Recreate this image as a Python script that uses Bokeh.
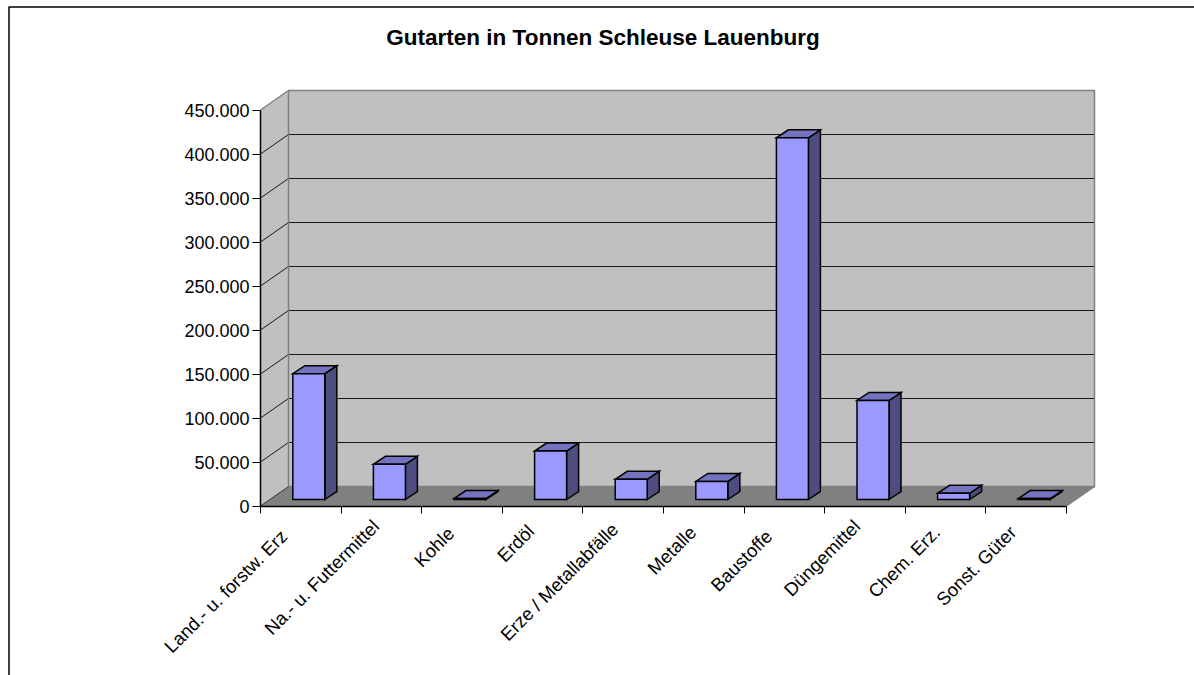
from bokeh.plotting import figure
from bokeh.embed import file_html
from bokeh.resources import INLINE
from bokeh.core.properties import value
from bokeh.models import Range1d, LinearAxis, FixedTicker, Label

TITLE = "Gutarten in Tonnen Schleuse Lauenburg"
categories = ["Land.- u. forstw. Erz", "Na.- u. Futtermittel", "Kohle", "Erdöl",
              "Erze / Metallabfälle", "Metalle", "Baustoffe", "Düngemittel",
              "Chem. Erz.", "Sonst. Güter"]
tonnen = [143000, 40000, 1000, 55000, 23000, 20500, 411000, 112500, 7000, 1000]
y_ticks = [0, 50000, 100000, 150000, 200000, 250000, 300000, 350000, 400000, 450000]
y_labels = ["0", "50.000", "100.000", "150.000", "200.000", "250.000",
            "300.000", "350.000", "400.000", "450.000"]

# pixel nudges of the slanted category labels from their category centre
label_dx = [-16.9, -5.5, -11.1, -11.7, -8.3, -10.9, -15.5, -8.1, -8.7, -13.3]
label_dy = [27.1, 17.1, 24.1, 22.1, 20.1, 23.1, 27.1, 17.1, 23.1, 23.1]

W, H = 1194, 675
PX_X = 80.6                 # pixels per category
PX_Y = 396 / 450000         # pixels per tonne
X0, Y0 = 260, 505.5         # canvas position of the axes origin

def ux(px): return px / PX_X
def uy(px): return px / PX_Y

DX, DY = ux(28), uy(19.5)      # depth of the chart box
BW = ux(32)                    # bar width
BDX, BDY = ux(12), uy(8)       # depth of a bar
BX, BY = ux(8.0), uy(6.5)      # bar centre shift on the floor

p = figure(width=W, height=H, output_backend="svg", toolbar_location=None,
           x_range=Range1d(ux(-X0), ux(W - X0)), y_range=Range1d(uy(Y0 - H), uy(Y0)),
           min_border=0, outline_line_color=None, x_axis_type=None, y_axis_type=None)
p.grid.visible = False

n = len(categories)
top = y_ticks[-1]
WALL, FLOOR, EDGE = "#C0C0C0", "#808080", "#808080"
FRONT, TOPC, SIDE = "#9999FF", "#7373BF", "#4D4D80"

# walls and floor
p.patch([0, DX, DX, 0], [0, DY, top + DY, top], fill_color=WALL, line_color=None)
p.patch([DX, n + DX, n + DX, DX], [DY, DY, top + DY, top + DY], fill_color=WALL, line_color=None)
p.patch([0, n, n + DX, DX], [0, 0, DY, DY], fill_color=FLOOR, line_color=None)

# grid lines
gx, gy = [], []
for v in y_ticks[1:-1]:
    gx.append([0, DX, n + DX])
    gy.append([v, v + DY, v + DY])
p.multi_line(gx, gy, line_color="#1a1a1a", line_width=1)
p.line([0, DX, n + DX, n + DX, n], [top, top + DY, top + DY, DY, 0], line_color=EDGE, line_width=1.5)
p.line([DX, DX, n + DX], [top + DY, DY, DY], line_color=EDGE, line_width=1.5)
p.line([0, DX], [0, DY], line_color="#333333", line_width=1)

# bars
for i, v in enumerate(tonnen):
    x0 = i + 0.5 + BX - BW / 2
    x1 = x0 + BW
    y0 = BY
    y1 = BY + v * 1.0
    kw = dict(line_color="black", line_width=1.5, line_join="miter")
    p.patch([x1, x1 + BDX, x1 + BDX, x1], [y0, y0 + BDY, y1 + BDY, y1], fill_color=SIDE, **kw)
    p.patch([x0, x1, x1 + BDX, x0 + BDX], [y1, y1, y1 + BDY, y1 + BDY], fill_color=TOPC, **kw)
    p.patch([x0, x1, x1, x0], [y0, y0, y1, y1], fill_color=FRONT, **kw)

FONT = "Liberation Sans"
# value axis
ya = LinearAxis(ticker=FixedTicker(ticks=y_ticks), fixed_location=0, bounds=(0, top),
                major_label_overrides=dict(zip(y_ticks, y_labels)),
                major_label_text_font=FONT, major_label_text_font_size="18px",
                major_label_text_color="black", major_label_standoff=3,
                major_tick_in=0, major_tick_out=8, minor_tick_line_color=None,
                major_tick_line_color="black", axis_line_color="black", axis_line_width=1.5)
p.add_layout(ya, "left")

# category ticks
xt = list(range(n + 1))
xa = LinearAxis(ticker=FixedTicker(ticks=xt), fixed_location=0, bounds=(0, n),
                major_label_overrides={t: "" for t in xt},
                major_tick_in=0, major_tick_out=7, minor_tick_line_color=None,
                major_tick_line_color="black", axis_line_color="black", axis_line_width=1.5)
p.add_layout(xa, "below")

# category labels
p.text(x=[i + 0.5 for i in range(n)], y=[0] * n, text=categories,
       x_offset=label_dx, y_offset=label_dy, angle=0.785, text_align="right",
       text_baseline="middle", text_font=value(FONT), text_font_size="18.5px",
       text_color="black")

# page border: left and top edges only
p.line([ux(8.5 - X0), ux(8.5 - X0), ux(W - X0)],
       [uy(Y0 - H), uy(Y0 - 6.5), uy(Y0 - 6.5)], line_color="black", line_width=1.5)

p.add_layout(Label(x=ux(602.5 - X0), y=uy(Y0 - 37), text=TITLE, text_align="center",
                   text_baseline="middle", text_font=FONT, text_font_size="22.5px",
                   text_font_style="bold", text_color="black"))

open("out.html", "w").write(file_html(p, INLINE))
